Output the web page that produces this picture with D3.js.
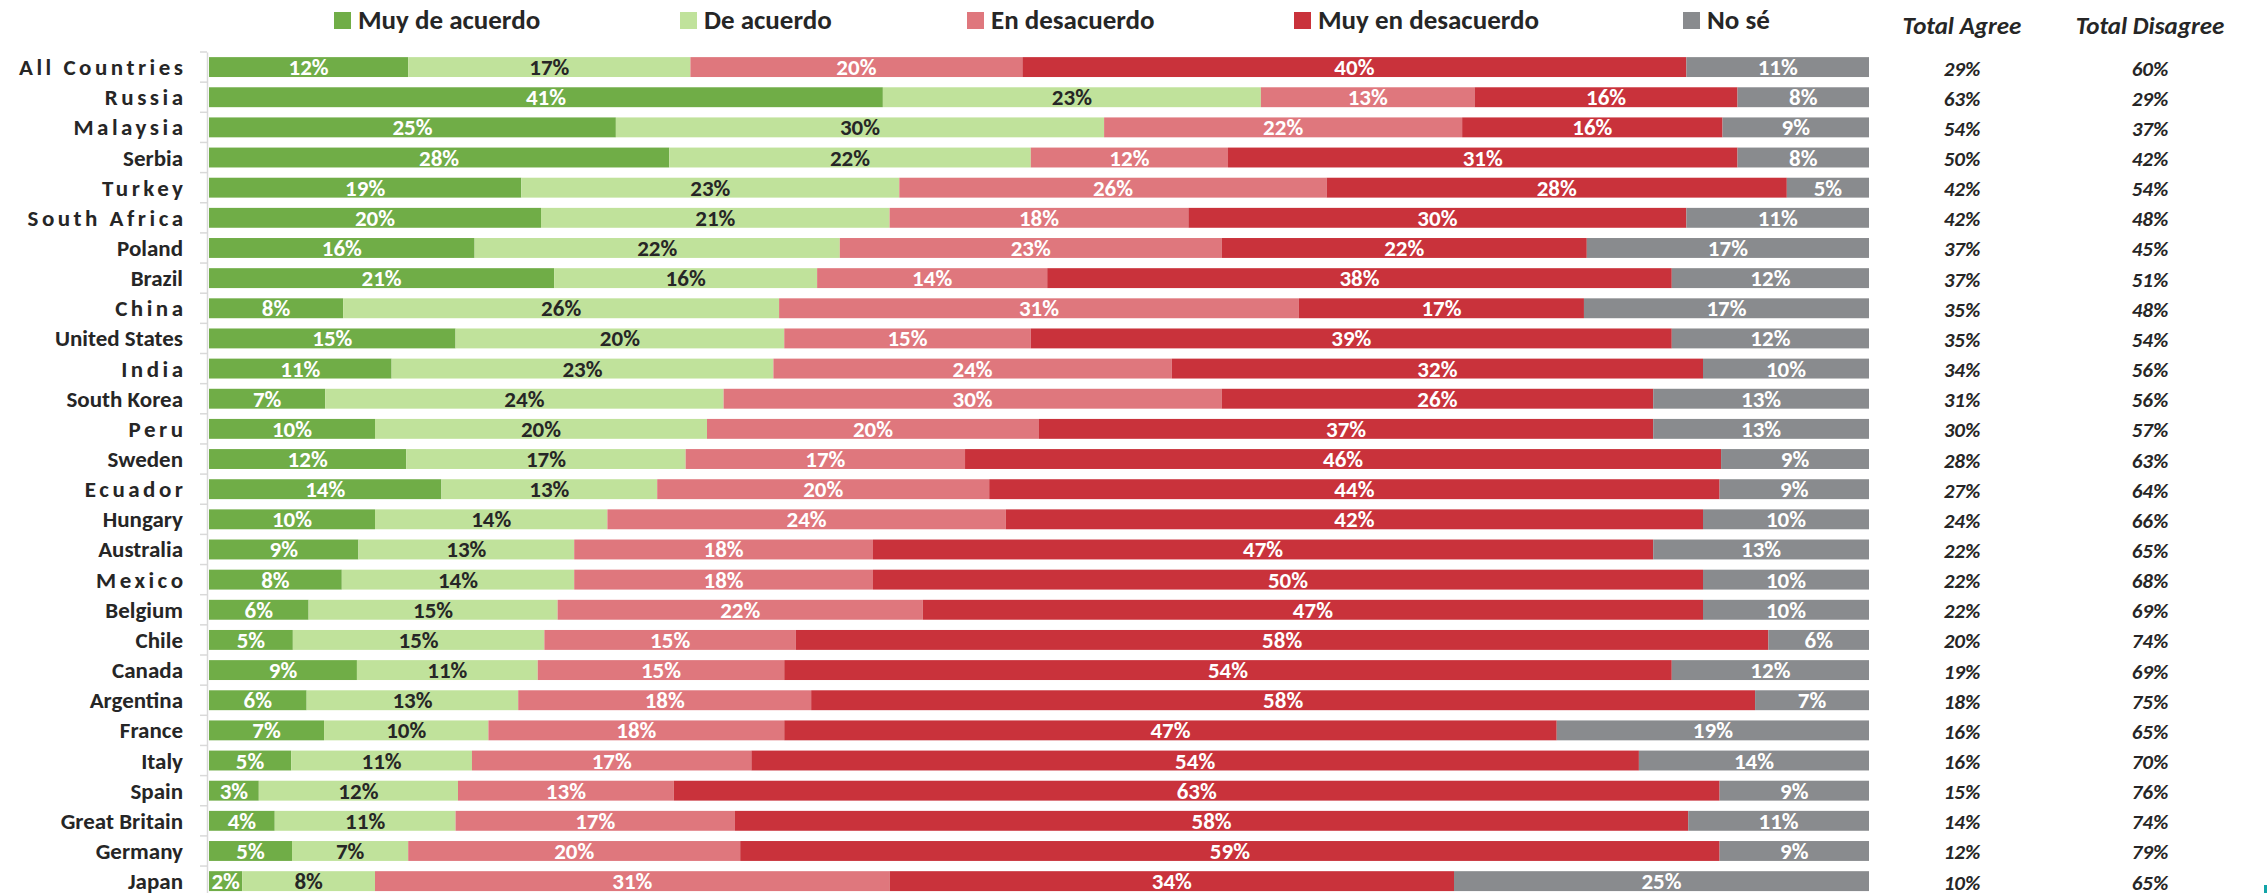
<!DOCTYPE html>
<html>
<head>
<meta charset="utf-8">
<script src="https://cdn.jsdelivr.net/npm/d3@7"></script>
<style>
  html, body { margin: 0; padding: 0; background: #fff; }
  svg { display: block; font-family: Carlito, Lato, "Open Sans", sans-serif; }
</style>
</head>
<body>
<div id="chart"></div>
<script>
// Data
var countries = ["All Countries", "Russia", "Malaysia", "Serbia", "Turkey", "South Africa", "Poland", "Brazil",
    "China", "United States", "India", "South Korea", "Peru", "Sweden", "Ecuador", "Hungary", "Australia",
    "Mexico", "Belgium", "Chile", "Canada", "Argentina", "France", "Italy", "Spain", "Great Britain",
    "Germany", "Japan"];
var muyDeAcuerdo   = [12, 41, 25, 28, 19, 20, 16, 21, 8, 15, 11, 7, 10, 12, 14, 10, 9, 8, 6, 5, 9, 6, 7, 5, 3, 4, 5, 2];
var deAcuerdo      = [17, 23, 30, 22, 23, 21, 22, 16, 26, 20, 23, 24, 20, 17, 13, 14, 13, 14, 15, 15, 11, 13, 10, 11, 12, 11, 7, 8];
var enDesacuerdo   = [20, 13, 22, 12, 26, 18, 23, 14, 31, 15, 24, 30, 20, 17, 20, 24, 18, 18, 22, 15, 15, 18, 18, 17, 13, 17, 20, 31];
var muyEnDesacuerdo = [40, 16, 16, 31, 28, 30, 22, 38, 17, 39, 32, 26, 37, 46, 44, 42, 47, 50, 47, 58, 54, 58, 47, 54, 63, 58, 59, 34];
var noSe           = [11, 8, 9, 8, 5, 11, 17, 12, 17, 12, 10, 13, 13, 9, 9, 10, 13, 10, 10, 6, 12, 7, 19, 14, 9, 11, 9, 25];
var totalAgree     = [29, 63, 54, 50, 42, 42, 37, 37, 35, 35, 34, 31, 30, 28, 27, 24, 22, 22, 22, 20, 19, 18, 16, 16, 15, 14, 12, 10];
var totalDisagree  = [60, 29, 37, 42, 54, 48, 45, 51, 48, 54, 56, 56, 57, 63, 64, 66, 65, 68, 69, 74, 69, 75, 65, 70, 76, 74, 79, 65];
var seriesNames = ["Muy de acuerdo", "De acuerdo", "En desacuerdo", "Muy en desacuerdo", "No sé"];
var sideHeaders = ["Total Agree", "Total Disagree"];
// labels drawn letter-spaced in the original
var spacedLabels = ["All Countries", "Russia", "Malaysia", "Turkey", "South Africa", "China", "India", "Peru", "Ecuador", "Mexico"];

var colors = ["#70ad47", "#c0e29b", "#df777d", "#c9323b", "#898b8e"];
var textColors = ["#ffffff", "#262626", "#ffffff", "#ffffff", "#ffffff"];

// SVG
var svgWidth = 2267, svgHeight = 893;
var margin = { top: 52, left: 209, right: 398 };

var svg = d3.select("#chart").append("svg")
    .attr("width", svgWidth)
    .attr("height", svgHeight);

// table for the stack
var seriesValues = [muyDeAcuerdo, deAcuerdo, enDesacuerdo, muyEnDesacuerdo, noSe];
var table = countries.map(function (c, i) {
    var row = { country: c };
    seriesNames.forEach(function (k, j) { row[k] = seriesValues[j][i]; });
    return row;
});

var stack = d3.stack().keys(seriesNames).offset(d3.stackOffsetExpand);
var layers = stack(table);

var x = d3.scaleLinear()
    .domain([0, 1])
    .range([margin.left, svgWidth - margin.right]);

var y = d3.scaleBand()
    .domain(countries)
    .range([margin.top, margin.top + countries.length * 30.15])
    .paddingInner(0.34)
    .paddingOuter(0.17);

// axis with small ticks between rows
var yAxis = d3.axisLeft(y).tickSize(0).tickFormat("");
var axisG = svg.append("g")
    .attr("transform", "translate(" + (margin.left - 2) + ",0)")
    .call(yAxis);
axisG.select(".domain").attr("stroke", "#d9d9d9").attr("stroke-width", 1.5);

var step = y.step();
svg.append("g").selectAll("line")
    .data(countries)
    .enter()
    .append("line")
    .attr("x1", margin.left - 9)
    .attr("x2", margin.left - 2)
    .attr("y1", function (d) { return y(d) - step * y.paddingInner() / 2; })
    .attr("y2", function (d) { return y(d) - step * y.paddingInner() / 2; })
    .attr("stroke", "#d9d9d9")
    .attr("stroke-width", 1.5);

// country labels
svg.append("g").selectAll("text")
    .data(countries)
    .enter()
    .append("text")
    .attr("x", function (d) { return spacedLabels.indexOf(d) >= 0 ? 186.5 : 183; })
    .attr("y", function (d) { return y(d) + y.bandwidth() / 2 + 8; })
    .attr("text-anchor", "end")
    .attr("font-size", 23)
    .attr("font-weight", "bold")
    .attr("letter-spacing", function (d) { return spacedLabels.indexOf(d) >= 0 ? 3.5 : 0; })
    .attr("fill", "#262626")
    .text(function (d) { return d; });

// stacked bars
var layerG = svg.append("g").selectAll("g")
    .data(layers)
    .enter()
    .append("g")
    .attr("fill", function (d, i) { return colors[i]; });

layerG.selectAll("rect")
    .data(function (d) { return d; })
    .enter()
    .append("rect")
    .attr("x", function (d) { return x(d[0]); })
    .attr("y", function (d) { return y(d.data.country); })
    .attr("width", function (d) { return x(d[1]) - x(d[0]); })
    .attr("height", y.bandwidth());

// segment labels
layerG.each(function (layer, i) {
    d3.select(this).selectAll("text")
        .data(layer)
        .enter()
        .append("text")
        .attr("x", function (d) { return (x(d[0]) + x(d[1])) / 2; })
        .attr("y", function (d) { return y(d.data.country) + y.bandwidth() / 2 + 8; })
        .attr("text-anchor", "middle")
        .attr("font-size", 23)
        .attr("font-weight", "bold")
        .attr("fill", textColors[i])
        .text(function (d) { return d.data[layer.key] + "%"; });
});

// legend
var legendX = [334, 680, 967, 1294, 1683];
var legend = svg.append("g").selectAll("g")
    .data(seriesNames)
    .enter()
    .append("g")
    .attr("transform", function (d, i) { return "translate(" + legendX[i] + ",0)"; });

legend.append("rect")
    .attr("x", 0)
    .attr("y", 12)
    .attr("width", 17)
    .attr("height", 17)
    .attr("fill", function (d, i) { return colors[i]; });

legend.append("text")
    .attr("x", 24)
    .attr("y", 29)
    .attr("font-size", 27)
    .attr("font-weight", "bold")
    .attr("fill", "#262626")
    .text(function (d) { return d; });

// side columns
var sideX = [1962, 2150];
var sideValues = [totalAgree, totalDisagree];

svg.append("g").selectAll("text")
    .data(sideHeaders)
    .enter()
    .append("text")
    .attr("x", function (d, i) { return sideX[i]; })
    .attr("y", 34)
    .attr("text-anchor", "middle")
    .attr("font-size", 25)
    .attr("font-weight", "bold")
    .attr("font-style", "italic")
    .attr("fill", "#262626")
    .text(function (d) { return d; });

sideValues.forEach(function (vals, j) {
    svg.append("g").selectAll("text")
        .data(vals)
        .enter()
        .append("text")
        .attr("x", sideX[j])
        .attr("y", function (d, i) { return y(countries[i]) + y.bandwidth() / 2 + 8.5; })
        .attr("text-anchor", "middle")
        .attr("font-size", 21)
        .attr("font-weight", "bold")
        .attr("font-style", "italic")
        .attr("fill", "#262626")
        .text(function (d) { return d + "%"; });
});

// small mark in the corner of the original
svg.append("rect")
    .attr("x", 2264)
    .attr("y", 885)
    .attr("width", 3)
    .attr("height", 8)
    .attr("fill", "#12a4a8");
</script>
</body>
</html>
